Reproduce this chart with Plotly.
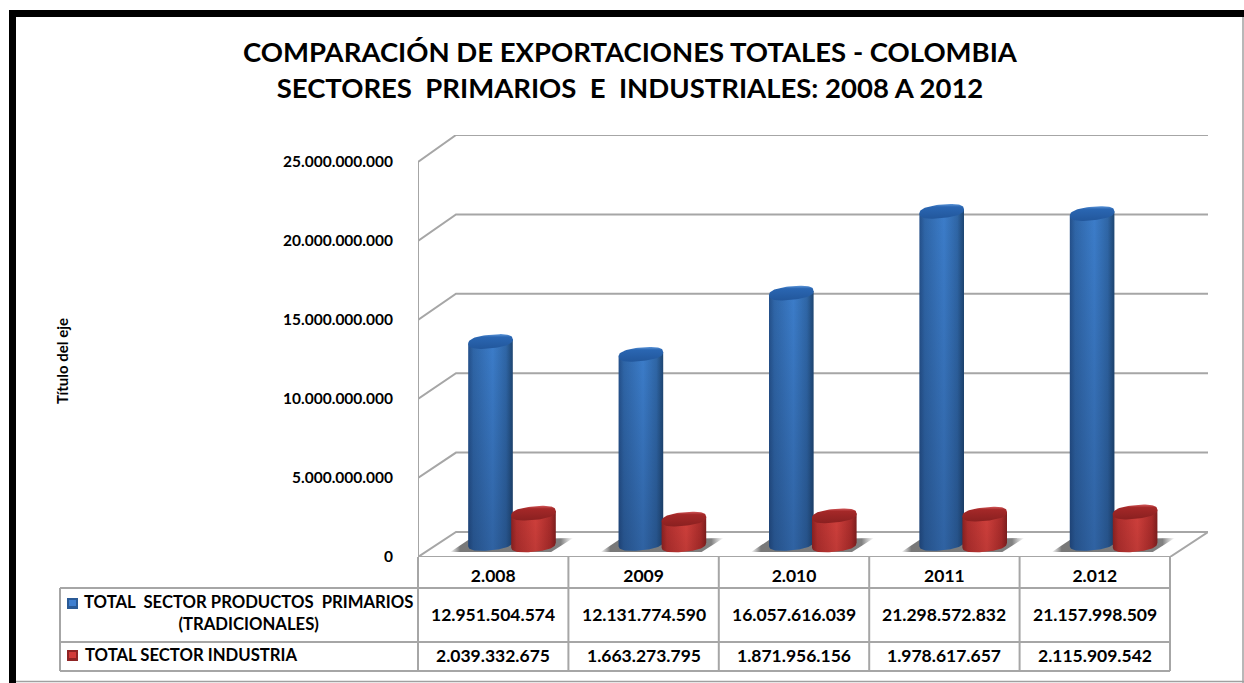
import math
import plotly.graph_objects as go

W, H = 1244, 683
FONT = "Lato"

title_lines = ["COMPARACIÓN DE EXPORTACIONES TOTALES - COLOMBIA",
               "SECTORES  PRIMARIOS  E  INDUSTRIALES: 2008 A 2012"]
axis_title = "Título del eje"
categories = ["2.008", "2009", "2.010", "2011", "2.012"]
primary_name = "TOTAL  SECTOR PRODUCTOS  PRIMARIOS<br>(TRADICIONALES)"
industry_name = "TOTAL SECTOR INDUSTRIA"
primary = [12951504574, 12131774590, 16057616039, 21298572832, 21157998509]
industry = [2039332675, 1663273795, 1871956156, 1978617657, 2115909542]
tick_values = [0, 5000000000, 10000000000, 15000000000, 20000000000, 25000000000]

# geometry of the pseudo-3D plot, in pixels of the page
FX0, FX1, FY0, FY25 = 418.0, 1170.0, 557.0, 162.0   # front plane
DX, DY = 38.0, 25.0                                 # depth offset of back wall
BACK = 397.0 / 395.0                                # back wall is slightly taller
PXX = (FX1 - FX0) / len(categories)                 # px per category
PXY = (FY0 - FY25) / 25e9                           # px per unit value
GRAY = "#a6a6a6"


def dots(v):
    return f"{v:,}".replace(",", ".")


def xd(px):
    return px / PXX


def yd(px):
    return px / PXY


def px_x(x):
    return x / W


def px_y(y):
    return 1 - y / H


fig = go.Figure()


def line(xs, ys, color=GRAY, width=2):
    fig.add_trace(go.Scatter(x=xs, y=ys, mode="lines", hoverinfo="skip", showlegend=False,
                             cliponaxis=False, line=dict(color=color, width=width)))


def poly(xs, ys, grad_type, scale):
    fig.add_trace(go.Scatter(x=xs, y=ys, mode="lines", fill="toself", hoverinfo="skip",
                             showlegend=False, cliponaxis=False,
                             line=dict(width=0, color="rgba(0,0,0,0)"),
                             fillgradient=dict(type=grad_type, colorscale=scale)))


n = len(categories)
# walls
for v in tick_values:
    back = v * BACK + yd(DY)
    if v:
        line([0, xd(DX), n + xd(DX)], [v, back, back])
    else:
        line([0, xd(DX), n + xd(DX), n, 0], [0, back, back, 0, 0])
line([0, 0], [0, 25e9])

A, B, SKEW = 22.3, 6.8, 2.2   # cylinder half-width, half-height, tilt (px)
ROUND = 0.8                   # rounder-than-ellipse outline of the cylinder ends
HSCALE = 0.987                # perspective shrink of the heights
STEPS = 40

BLUE_BODY = [[0, "#24508a"], [0.12, "#2f66a8"], [0.55, "#3c7dca"], [0.85, "#2f66a6"], [1, "#1e4672"]]
BLUE_TOP = [[0, "#22579c"], [0.8, "#2a66b2"], [1, "#5e96d8"]]
RED_BODY = [[0, "#8a2222"], [0.12, "#b02f2e"], [0.55, "#d0403c"], [0.88, "#a82b2a"], [1, "#7e1e1e"]]
RED_TOP = [[0, "#8a2020"], [0.8, "#a42828"], [1, "#d2585a"]]
SHADE_BLUE = [[0, "rgba(15,30,60,0.28)"], [1, "rgba(15,30,60,0)"]]
SHADE_RED = [[0, "rgba(60,10,10,0.12)"], [1, "rgba(60,10,10,0)"]]
SHADOW = [[0, "rgba(105,105,105,0)"], [0.08, "rgba(105,105,105,0.9)"],
          [0.9, "rgba(115,115,115,0.9)"], [1, "rgba(140,140,140,0)"]]


def spow(v):
    return math.copysign(abs(v) ** ROUND, v)


def end_x(cx, t):
    return cx + xd(A * spow(math.cos(t)))


def end_y(yc, t):
    return yc + yd(B * spow(math.sin(t))) + yd(SKEW * spow(math.cos(t)))


def cylinder(i, value, off_px, base_px, body, top, shade):
    cx = i + 0.5 + xd(off_px)
    y0 = yd(base_px)
    y1 = y0 + value * HSCALE
    ts = [-math.pi * k / STEPS for k in range(STEPS + 1)]
    # lower arc from right to left, then up the left side and back along the top
    xs = [end_x(cx, t) for t in ts]
    ys = [end_y(y0, t) for t in ts]
    ox = xs + [cx - xd(A), cx + xd(A), xs[0]]
    oy = ys + [y1 - yd(SKEW), y1 + yd(SKEW), ys[0]]
    poly(ox, oy, "horizontal", body)
    poly(ox, oy, "vertical", shade)
    full = [2 * math.pi * k / (2 * STEPS) for k in range(2 * STEPS + 1)]
    poly([end_x(cx, t) for t in full], [end_y(y1, t) for t in full], "vertical", top)


# floor shadows
for i in range(n):
    cx = i + 0.5
    sx = [cx + xd(p) for p in [-43, -25, 80, 58, -43]]
    sy = [yd(v) for v in [5, 17, 19, 5, 5]]
    poly(sx, sy, "horizontal", SHADOW)

for i in range(n):
    cylinder(i, primary[i], -2.7, 13.5, BLUE_BODY, BLUE_TOP, SHADE_BLUE)
    cylinder(i, industry[i], 40.3, 12.0, RED_BODY, RED_TOP, SHADE_RED)

shapes = []


def rect(x0, y0, x1, y1, fill, line_color=None, width=0):
    shapes.append(dict(type="rect", xref="paper", yref="paper", x0=px_x(x0), x1=px_x(x1),
                       y0=px_y(y1), y1=px_y(y0), fillcolor=fill, layer="below",
                       line=dict(color=line_color or "rgba(0,0,0,0)", width=width)))


def seg(x0, y0, x1, y1, color=GRAY, width=2):
    shapes.append(dict(type="line", xref="paper", yref="paper", x0=px_x(x0), x1=px_x(x1),
                       y0=px_y(y0), y1=px_y(y1), line=dict(color=color, width=width)))


# frame
rect(9, 10, W, 17, "#000000")
rect(9, 10, 16, H, "#000000")
seg(W - 1, 17, W - 1, H, "#a0a0a0", 1.5)
seg(16, 681.5, W, 681.5, "#a0a0a0", 1.5)

# data table
ROWS = [588.0, 642.0, 671.0]
for k in range(n + 1):
    x = FX0 + k * PXX
    seg(x, FY0, x, ROWS[-1])
for y in ROWS:
    seg(60, y, FX1, y)
seg(60, ROWS[0], 60, ROWS[-1])

annotations = []


def label(x, y, text, size=17, anchor="center", align="center", angle=0):
    annotations.append(dict(xref="paper", yref="paper", x=px_x(x), y=px_y(y), text=text,
                            showarrow=False, xanchor=anchor, yanchor="middle", align=align,
                            textangle=angle,
                            font=dict(family=FONT, size=size, color="#000000", weight=700)))


for k in range(n):
    cx = FX0 + (k + 0.5) * PXX
    label(cx, 614, dots(primary[k]), size=17.5)
    label(cx, 655, dots(industry[k]), size=17.5)
label(248, 613, primary_name, size=16.7)
label(83, 655, industry_name, size=16.7, anchor="left")
label(62, 361, axis_title, size=15, angle=-90)

# legend keys inside the table
for y, edge, fill in [(598, "#2a5a96", "#3f7fd0"), (650, "#8f2424", "#d23c3a")]:
    rect(67, y, 78, y + 11, edge)
    rect(69, y + 2, 76, y + 8, fill)

fig.update_layout(
    width=W, height=H, autosize=False, showlegend=False,
    paper_bgcolor="#ffffff", plot_bgcolor="rgba(0,0,0,0)",
    margin=dict(l=0, r=0, t=0, b=0, pad=0, autoexpand=False),
    font=dict(family=FONT, color="#000000"),
    title=dict(text="<br>".join(title_lines), x=630 / W, xanchor="center", y=1 - 62 / H,
               yanchor="middle", font=dict(family=FONT, size=27.5, color="#000000", weight=700)),
    xaxis=dict(domain=[FX0 / W, (FX1 + DX) / W], range=[0, (FX1 + DX - FX0) / PXX],
               tickmode="array", tickvals=[k + 0.5 for k in range(n)], ticktext=categories,
               showgrid=False, zeroline=False, showline=False, ticks="", ticklabelstandoff=6,
               tickfont=dict(family=FONT, size=17.5, color="#000000", weight=700)),
    yaxis=dict(domain=[1 - FY0 / H, 1 - (FY25 - DY - 2) / H], range=[0, yd(FY0 - FY25 + DY + 2)],
               tickmode="array", tickvals=tick_values, ticktext=[dots(v) for v in tick_values],
               showgrid=False, zeroline=False, showline=False, ticks="", ticklabelstandoff=24,
               tickfont=dict(family=FONT, size=15.5, color="#000000", weight=700)),
    shapes=shapes, annotations=annotations,
)

fig.write_html("out.html", config={"displayModeBar": False},
               post_script="document.body.style.margin='0';")
